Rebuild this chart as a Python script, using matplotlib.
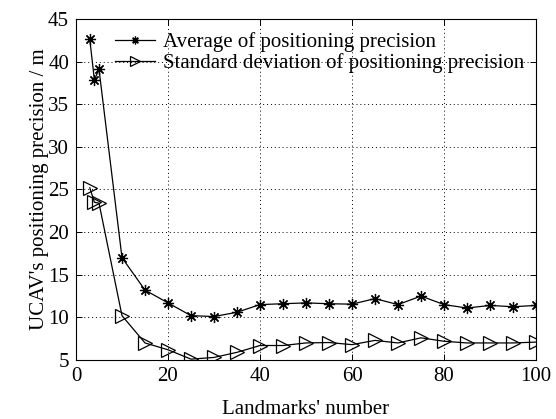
import matplotlib
matplotlib.use("Agg")
import matplotlib.pyplot as plt

x = [3, 4, 5, 10, 15, 20, 25, 30, 35, 40, 45, 50, 55, 60, 65, 70, 75, 80, 85, 90, 95, 100]
avg = [42.6, 37.85, 39.1, 17.0, 13.2, 11.7, 10.2, 10.1, 10.6, 11.5, 11.6, 11.7, 11.6, 11.55,
       12.2, 11.5, 12.5, 11.5, 11.1, 11.4, 11.25, 11.4]
std = [25.2, 23.5, 23.4, 10.2, 7.0, 6.2, 5.1, 5.3, 5.9, 6.7, 6.7, 7.0, 7.05, 6.8,
       7.3, 7.0, 7.6, 7.2, 7.0, 7.0, 7.0, 7.1]
labels = ["Average of positioning precision", "Standard deviation of positioning precision"]

plt.rcParams['font.family'] = ['Liberation Serif', 'DejaVu Serif']

FS = 15
fig = plt.figure(figsize=(5.56, 4.19), dpi=100)
ax = fig.add_axes([76/556, 59/419, 460/556, 341/419])

ax.plot(x, avg, color='black', lw=0.9, marker=(8, 2, 0), markersize=8,
        markeredgewidth=0.9, label=labels[0])
ax.plot(x, std, color='black', lw=0.9, marker='>', markersize=10, markerfacecolor='none',
        markeredgewidth=0.9, label=labels[1])

ax.set_xlim(0, 100)
ax.set_ylim(5, 45)
ax.set_xticks([0, 20, 40, 60, 80, 100])
ax.set_yticks([5, 10, 15, 20, 25, 30, 35, 40, 45])
ax.tick_params(direction='in', labelsize=FS, length=4, width=0.7, top=True, right=True, pad=5)
ax.grid(True, linestyle=(0, (1, 3)), color='black', lw=0.7)
for s in ax.spines.values():
    s.set_linewidth(0.8)

ax.set_xlabel("Landmarks' number", fontsize=FS, labelpad=10)
ax.set_ylabel("UCAV's positioning precision / m", fontsize=FS, labelpad=-1)

ax.legend(loc='upper left', bbox_to_anchor=(0.085, 0.962), frameon=False, fontsize=FS,
          handlelength=1.9, handletextpad=0.4, borderaxespad=0, labelspacing=0.05,
          borderpad=0, markerscale=0.7)

fig.savefig("out.png", dpi=100)
